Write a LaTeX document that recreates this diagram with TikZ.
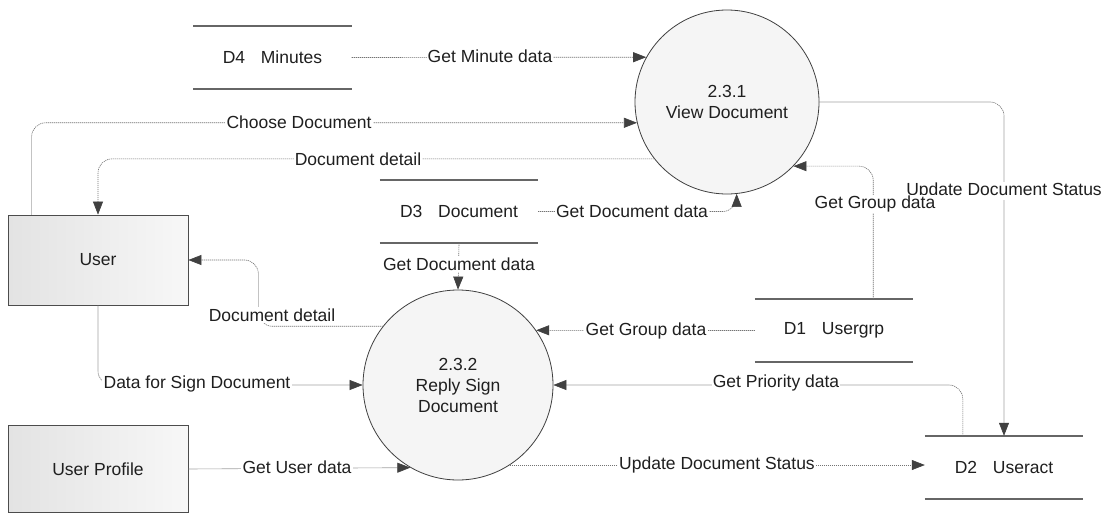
\documentclass[tikz,border=0pt]{standalone}
\usepackage{fontspec}
\setmainfont{Liberation Sans}
\usetikzlibrary{arrows.meta,calc}
\newcommand\dfdfont{\fontsize{17.5}{21}\selectfont}
\tikzset{
  proc/.style={circle, draw=black!75, line width=0.8pt, fill=black!4,
    minimum size=#1, inner sep=0pt, align=center, font=\dfdfont, text=black!88},
  entity/.style={draw=black!70, line width=0.8pt, left color=black!11, right color=black!3,
    minimum width=180pt, minimum height=90pt, font=\dfdfont, text=black!88},
  store/.style={minimum width=158pt, minimum height=63pt, inner sep=0pt,
    font=\dfdfont, text=black!88},
  storeline/.style={draw=black!60, line width=1.6pt},
  flow/.style={draw=black!55, line width=0.6pt, dash pattern=on 1.2pt off 0.8pt,
    rounded corners=14pt,
    -{Triangle[length=13pt,width=10pt,line width=0.6pt,color=black!75,fill=black!75]}},
  lbl/.style={fill=white, inner sep=1.2pt, font=\dfdfont, text=black!88},
}
\begin{document}
\begin{tikzpicture}[x=1pt,y=-1pt]
\useasboundingbox[fill=white] (0,0) rectangle (1116,514);

% processes
\node[proc=184pt] (c1) at (727,102) {2.3.1\\View Document};
\node[proc=190pt] (c2) at (458,385) {2.3.2\\Reply Sign\\Document};

% external entities
\node[entity] (user) at (98,260) {User};
\node[entity, minimum height=87pt] (prof) at (98,469) {User Profile};

% data stores
\node[store] (d4) at (272.5,57.5) {D4\hspace{0.9em}Minutes};
\node[store] (d3) at (459,211.5) {D3\hspace{0.9em}Document};
\node[store] (d1) at (834,330.5) {D1\hspace{0.9em}Usergrp};
\node[store] (d2) at (1004,467.5) {D2\hspace{0.9em}Useract};
\foreach \s in {d4,d3,d1,d2}{
  \draw[storeline] (\s.north west) -- (\s.north east)
                   (\s.south west) -- (\s.south east);
}

% data flows around 2.3.1
\draw[flow] (d4.east) -- (c1.151);
\draw[flow] ([xshift=24pt]user.north west) |- (c1.193);
\draw[flow] (c1.218) -| (user.north);
\draw[flow] (d3.east) -| (c1.276);
\draw[flow] ([xshift=-40pt]d1.north east) |- (c1.-44);
\draw[flow] (c1.east) -| (d2.north);

% data flows around 2.3.2
\draw[flow] (d3.south) -- (c2.north);
\draw[flow] (c2.142) -| ($(user.east)+(70,0)$) -- (user.east);
\draw[flow] (d1.west) -- (c2.35);
\draw[flow] ([xshift=38pt]d2.north west) |- (c2.east);
\draw[flow] (c2.-57) -- (d2.west |- c2.-57);
\draw[flow] (user.south) |- (c2.west);
\draw[flow] (prof.east) -- (c2.240);

% flow labels
\node[lbl] (lminute) at (490,56) {Get Minute data};
\node[lbl] (lchoose) at (299,122) {Choose Document};
\node[lbl] (ldet1) at (358,159) {Document detail};
\node[lbl] (lgetdoc1) at (632,211) {Get Document data};
\node[lbl] (lupd1) at (1004,191) {Update Document Status};
\node[lbl] (lgrp1) at (875,204) {Get Group data};
\node[lbl] (lgetdoc2) at (459,264) {Get Document data};
\node[lbl] (ldet2) at (272,315) {Document detail};
\node[lbl] (lgrp2) at (646,331) {Get Group data};
\node[lbl] (lprio) at (776,383) {Get Priority data};
\node[lbl] (lsign) at (197,384) {Data for Sign Document};
\node[lbl] (luser) at (297,467) {Get User data};
\node[lbl] (lupd2) at (717,465) {Update Document Status};
\end{tikzpicture}
\end{document}
